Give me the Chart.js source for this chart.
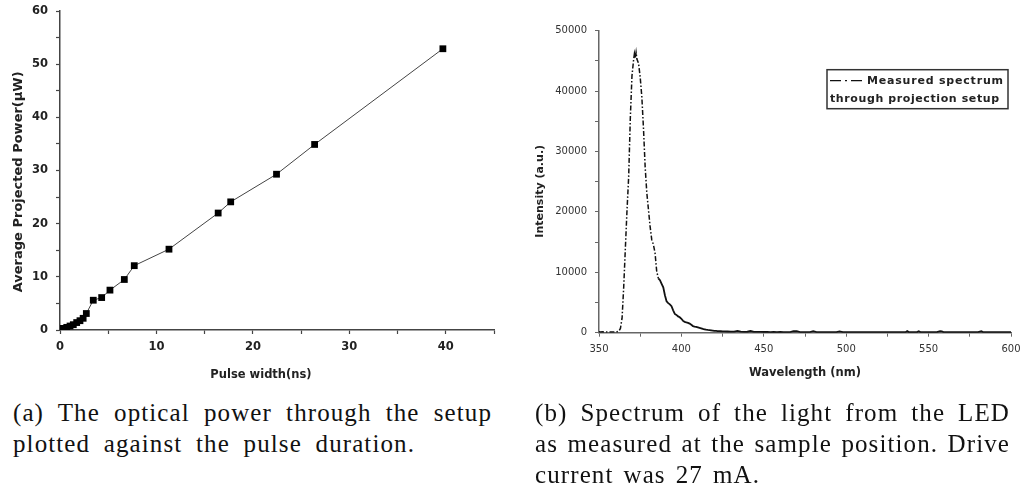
<!DOCTYPE html>
<html lang="en">
<head>
<meta charset="UTF-8">
<title>Pulse power and LED spectrum</title>
<script src="https://cdn.jsdelivr.net/npm/chart.js"></script>
<style>
    body {
        margin: 0;
        width: 1021px;
        height: 492px;
        overflow: hidden;
        background: #fff;
        position: relative;
    }
    #powerChart { position: absolute; left: 0; top: 0; }
    #spectrumChart { position: absolute; left: 500px; top: 0; }
    .caption {
        position: absolute;
        font-family: "Liberation Serif", serif;
        font-size: 25px;
        line-height: 31px;
        color: #111;
        letter-spacing: 1.1px;
    }
    .caption div { text-align: justify; text-align-last: justify; white-space: nowrap; }
</style>
</head>
<body>
<canvas id="powerChart" width="505" height="392"></canvas>
<canvas id="spectrumChart" width="535" height="392"></canvas>

<div class="caption" style="left:13px; top:397px;">
    <div style="width:479px;">(a) The optical power through the setup</div>
    <div style="width:402px;">plotted against the pulse duration.</div>
</div>
<div class="caption" style="left:535px; top:397px;">
    <div style="width:475px;">(b) Spectrum of the light from the LED</div>
    <div style="width:475px;">as measured at the sample position. Drive</div>
    <div style="width:225px;">current was 27 mA.</div>
</div>

<script>
// (a) average projected power vs pulse width
const pulseWidth = [0.35, 0.7, 1.04, 1.38, 1.73, 2.07, 2.4, 2.73, 3.45, 4.32, 5.18, 6.67, 7.7, 11.3, 16.4, 17.7, 22.45, 26.4, 39.7];
const power      = [0.3, 0.5, 0.75, 1.0, 1.4, 1.75, 2.2, 3.1, 5.6, 6.1, 7.5, 9.5, 12.1, 15.2, 22.0, 24.1, 29.3, 34.9, 52.9];

// (b) LED spectrum
const wavelength = [
    350, 351, 352, 353, 354, 355, 356, 357, 358, 359, 360, 361, 362, 363, 364, 365, 366, 367, 368, 369,
    370, 371, 371.5, 372, 372.5, 373, 374, 375, 376, 377, 378, 379, 380, 381, 382, 383, 384, 385, 386, 387,
    388, 389, 390, 391, 392, 393, 394, 395, 396, 397, 398, 399, 400, 401, 402, 403, 404, 405, 406, 407,
    408, 409, 410, 411, 412, 413, 414, 415, 416, 417, 418, 419, 420, 421, 422, 423, 424, 425,
    426, 428, 430, 432, 434, 436, 438, 440, 442, 444, 446, 448, 450, 452, 454, 456, 458, 460, 462, 464,
    466, 468, 470, 472, 474, 476, 478, 480, 482, 484, 486, 488, 490, 492, 494, 496, 498, 500, 505, 510,
    515, 520, 525, 530, 536, 537, 538, 543, 544, 545, 550, 555, 557, 558, 559, 565, 570, 575, 580, 582,
    583, 590, 595, 600
];
const intensity = [
    150, 120, 140, 100, 130, 110, 120, 100, 130, 110, 140, 160, 250, 700, 2400, 7600, 14000, 20300, 25800, 35500,
    42500, 45200, 46200, 45400, 46400, 45300, 44600, 42300, 39000, 33800, 27500, 23200, 20400, 17600, 15400, 14600, 13200, 10200, 9000, 8700,
    8100, 7500, 6200, 5200, 4900, 4700, 4400, 3700, 3100, 2950, 2700, 2550, 2300, 1950, 1800, 1700, 1620, 1500, 1300, 1100,
    1020, 960, 880, 800, 720, 620, 560, 500, 460, 430, 390, 350, 310, 290, 270, 250, 240, 230,
    220, 200, 190, 180, 300, 170, 150, 160, 280, 150, 130, 140, 120, 130, 110, 120, 110, 130, 100, 110,
    100, 250, 240, 100, 90, 100, 110, 260, 100, 90, 100, 90, 100, 90, 100, 220, 90, 100, 90, 100,
    90, 100, 90, 100, 90, 260, 100, 90, 240, 90, 100, 90, 240, 230, 90, 100, 90, 100, 90, 230,
    90, 100, 90, 100
];
const legendLines = ['Measured spectrum', 'through projection setup'];

const boldTitle = size => ({ family: 'DejaVu Sans', weight: 'bold', size: size });

// only every other tick gets a label, the rest are minor marks
function majorOnly(every) {
    return v => (Math.abs(v % every) < 1e-9 ? String(v) : '');
}

function fixedSize(prop, value) {
    return scale => {
        scale[prop] = value;
        scale.paddingLeft = 0;
        scale.paddingRight = 0;
        scale.paddingTop = 0;
        scale.paddingBottom = 0;
    };
}

new Chart(document.getElementById('powerChart'), {
    type: 'line',
    data: {
        datasets: [{
            data: pulseWidth.map((x, i) => ({ x: x, y: power[i] })),
            borderColor: '#444',
            borderWidth: 1,
            pointStyle: 'rect',
            pointRadius: 4.8,
            pointBackgroundColor: '#000',
            pointBorderWidth: 0,
            tension: 0
        }]
    },
    options: {
        responsive: false,
        animation: false,
        layout: { padding: { left: 11, right: 11, top: 11, bottom: 10 } },
        plugins: { legend: { display: false }, tooltip: { enabled: false } },
        scales: {
            x: {
                type: 'linear', min: 0, max: 45,
                afterFit: fixedSize('height', 52),
                border: { color: '#444', width: 1.5 },
                grid: { drawOnChartArea: false, tickLength: 4, color: '#444', tickWidth: 1.2 },
                ticks: { stepSize: 5, autoSkip: false, maxRotation: 0, padding: 6, color: '#222',
                         font: boldTitle(11.5), callback: majorOnly(10) },
                // trailing spaces pull the title a little left of the axis centre
                title: { display: true, text: 'Pulse width(ns)        ', color: '#222', font: boldTitle(11.5),
                         padding: { top: 0, bottom: 0 } }
            },
            y: {
                min: 0, max: 60,
                afterFit: fixedSize('width', 49),
                border: { color: '#444', width: 1.5 },
                grid: { drawOnChartArea: false, tickLength: 4, color: '#444', tickWidth: 1.2 },
                ticks: { stepSize: 5, autoSkip: false, padding: 8, color: '#222',
                         font: boldTitle(11.5), callback: majorOnly(10) },
                title: { display: true, text: 'Average Projected Power(\u00b5W)     ', color: '#222', font: boldTitle(13),
                         padding: { top: 0, bottom: 0 } }
            }
        }
    }
});

// framed legend box in the upper right of the spectrum plot
const legendBox = {
    id: 'legendBox',
    afterDraw(chart) {
        const { ctx, chartArea } = chart;
        const right = chartArea.right - 3, top = chartArea.top + 39;
        const w = 181, h = 39, left = right - w;
        ctx.save();
        ctx.strokeStyle = '#333';
        ctx.lineWidth = 1.5;
        ctx.strokeRect(left, top, w, h);
        ctx.setLineDash([11, 4, 2, 4]);
        ctx.lineWidth = 1.3;
        ctx.strokeStyle = '#111';
        ctx.beginPath();
        ctx.moveTo(left + 3, top + 11);
        ctx.lineTo(left + 35, top + 11);
        ctx.stroke();
        ctx.setLineDash([]);
        ctx.fillStyle = '#222';
        ctx.font = 'bold 11px "DejaVu Sans"';
        ctx.letterSpacing = '0.8px';
        ctx.textBaseline = 'middle';
        ctx.fillText(legendLines[0], left + 40, top + 11);
        ctx.letterSpacing = '0.6px';
        ctx.fillText(legendLines[1], left + 3, top + 29);
        ctx.restore();
    }
};

new Chart(document.getElementById('spectrumChart'), {
    type: 'line',
    data: {
        datasets: [{
            label: legendLines.join(' '),
            data: wavelength.map((x, i) => ({ x: x, y: intensity[i] })),
            borderColor: '#111',
            borderWidth: 1.5,
            borderDash: [5, 2, 1.5, 2],
            // past the shoulder the dense noisy trace reads as a solid line
            segment: {
                borderDash: ctx => (ctx.p0.parsed.x >= 386 ? [] : undefined),
                borderWidth: ctx => (ctx.p0.parsed.x >= 386 ? 1.8 : undefined)
            },
            pointRadius: 0,
            tension: 0
        }]
    },
    options: {
        responsive: false,
        animation: false,
        layout: { padding: { left: 33.4, right: 24, top: 30.7, bottom: 12.3 } },
        plugins: { legend: { display: false }, tooltip: { enabled: false } },
        scales: {
            x: {
                type: 'linear', min: 350, max: 600,
                afterFit: fixedSize('height', 47),
                border: { color: '#666', width: 1.5 },
                grid: { drawOnChartArea: false, tickLength: 4, color: '#666' },
                ticks: { stepSize: 25, autoSkip: false, maxRotation: 0, padding: 7, color: '#333',
                         font: { family: 'DejaVu Sans', size: 10 }, callback: majorOnly(50) },
                title: { display: true, text: 'Wavelength (nm)', color: '#222', font: boldTitle(11.5),
                         padding: { top: 0, bottom: 0 } }
            },
            y: {
                min: 0, max: 50000,
                afterFit: fixedSize('width', 65.6),
                border: { color: '#666', width: 1.5 },
                grid: { drawOnChartArea: false, tickLength: 4, color: '#666' },
                ticks: { stepSize: 5000, autoSkip: false, padding: 8, color: '#333',
                         font: { family: 'DejaVu Sans', size: 10 }, callback: majorOnly(10000) },
                title: { display: true, text: 'Intensity (a.u.)     ', color: '#222', font: boldTitle(11),
                         padding: { top: 0, bottom: 0 } }
            }
        }
    },
    plugins: [legendBox]
});
</script>
</body>
</html>
